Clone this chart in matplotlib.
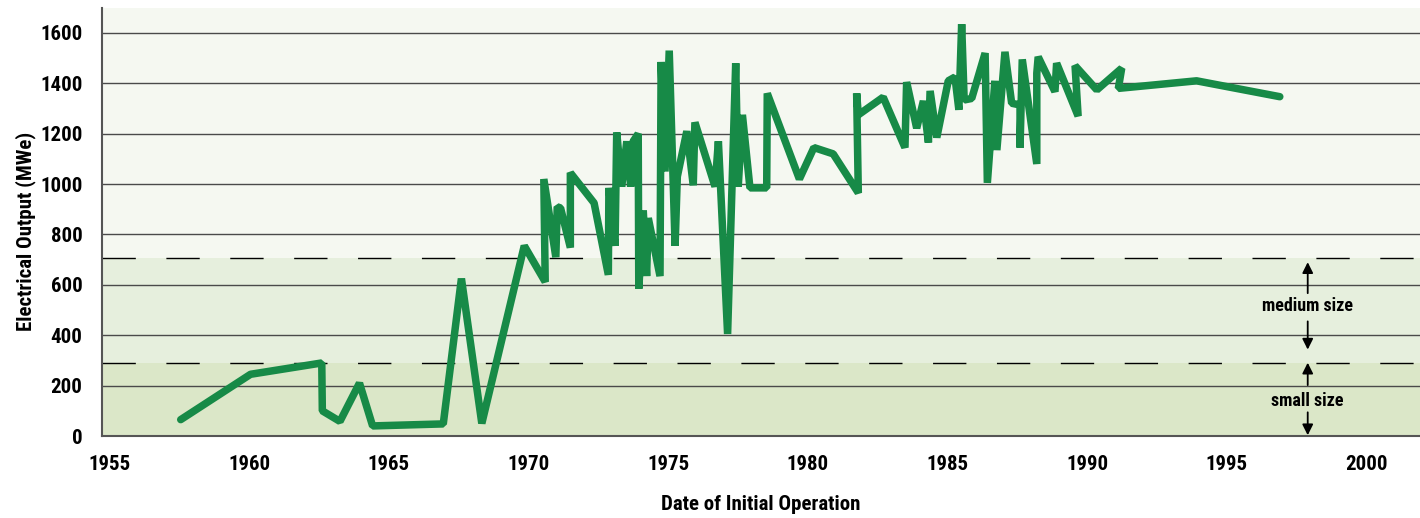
import matplotlib
matplotlib.use('Agg')
import matplotlib.pyplot as plt
from matplotlib import font_manager
from matplotlib.font_manager import FontProperties

# =========================
# DATA
# =========================
years = [1957.55, 1960.05, 1962.6, 1962.62, 1963.25, 1963.95, 1964.42, 1966.95,
         1967.6, 1968.33, 1969.85, 1970.6, 1970.55, 1970.98, 1971.03, 1971.15,
         1971.5, 1971.5, 1972.35, 1972.86, 1972.88, 1973.1, 1973.16, 1973.34,
         1973.52, 1973.66, 1973.75, 1973.93, 1973.95, 1974.11, 1974.23, 1974.29,
         1974.71, 1974.75, 1974.89, 1975.04, 1975.25, 1975.33, 1975.67, 1975.9,
         1975.96, 1976.68, 1976.8, 1977.13, 1977.42, 1977.51, 1977.66, 1977.93,
         1978.53, 1978.55, 1979.7, 1980.22, 1980.91, 1981.81, 1981.75, 1981.81,
         1982.7, 1983.48, 1983.54, 1983.9, 1984.14, 1984.32, 1984.38, 1984.62,
         1985.03, 1985.27, 1985.41, 1985.51, 1985.6, 1985.87, 1986.35, 1986.43,
         1986.7, 1986.77, 1987.06, 1987.3, 1987.6, 1987.6, 1987.68, 1988.2,
         1988.2, 1988.25, 1988.85, 1988.91, 1989.68, 1989.57, 1990.35, 1991.24,
         1991.12, 1993.92, 1996.9]
output_mwe = [65, 245, 290, 100, 58, 210, 40, 48,
              625, 50, 755, 612, 1020, 710, 910, 905,
              748, 1045, 925, 640, 985, 755, 1205, 990,
              1170, 990, 1170, 1200, 585, 895, 635, 865,
              635, 1485, 1050, 1530, 755, 1030, 1210, 995,
              1245, 990, 1170, 405, 1480, 990, 1275, 985,
              985, 1360, 1020, 1145, 1120, 965, 1360, 1275,
              1345, 1145, 1405, 1222, 1330, 1165, 1370, 1185,
              1410, 1425, 1295, 1635, 1334, 1340, 1520, 1005,
              1410, 1135, 1525, 1321, 1314, 1145, 1495, 1080,
              1440, 1505, 1367, 1480, 1270, 1470, 1374, 1460,
              1380, 1410, 1347]

small_limit = 290
medium_limit = 705
y_ticks = [0, 200, 400, 600, 800, 1000, 1200, 1400, 1600]
x_ticks = [1955, 1960, 1965, 1970, 1975, 1980, 1985, 1990, 1995, 2000]

# =========================
# FONT (look for a bold narrow face)
# =========================
narrow_words = ('Narrow', 'Condensed', 'Cond')
narrow_stretch = ('condensed', 'semi-condensed', 'extra-condensed',
                  'ultra-condensed')


def is_bold(f):
    w = f.weight
    if isinstance(w, str):
        return w in ('bold', 'heavy', 'extra bold', 'black', 'semibold', 'demibold')
    return w >= 600


def is_narrow(f):
    if any(wd in f.name for wd in narrow_words):
        return True
    if 'cond' in f.fname.lower() or 'narrow' in f.fname.lower():
        return True
    s = f.stretch
    if isinstance(s, str):
        return s in narrow_stretch
    return s < 500


cands = [f for f in font_manager.fontManager.ttflist
         if is_narrow(f) and is_bold(f) and f.style == 'normal']
pref = ['Liberation Sans Narrow', 'Roboto Condensed', 'Open Sans Condensed',
        'Noto Sans', 'DejaVu Sans']
cands.sort(key=lambda f: next((i for i, p in enumerate(pref) if f.name.startswith(p)), 99))

if cands:
    fp = lambda size: FontProperties(fname=cands[0].fname, size=size)
else:
    fp = lambda size: FontProperties(family='DejaVu Sans', weight='bold', size=size)

# =========================
# PLOT
# =========================
fig = plt.figure(figsize=(14.2, 5.18), dpi=100)
ax = fig.add_axes([0.0718, 0.1583, 0.9282, 0.8267])

ax.set_xlim(1954.73, 2001.92)
ax.set_ylim(0, 1700)

# size bands
ax.axhspan(0, small_limit, color='#dbe7c8', zorder=0, lw=0)
ax.axhspan(small_limit, medium_limit, color='#e6efdd', zorder=0, lw=0)
ax.axhspan(medium_limit, 1700, color='#f5f8f1', zorder=0, lw=0)

for v in y_ticks[1:]:
    ax.axhline(v, color='#4a4a4a', lw=1.0, zorder=1)
for v in [small_limit, medium_limit]:
    ax.axhline(v, color='black', lw=1.0, dashes=(24, 22), zorder=1)

ax.plot(years, output_mwe, color='#178a47', lw=5.4,
        solid_capstyle='round', solid_joinstyle='bevel', zorder=3)

# size annotations
ax_x = 1997.9
arrow = dict(arrowstyle='-|>', color='black', lw=1.3, mutation_scale=16,
             shrinkA=0, shrinkB=0)
ax.text(ax_x, 516, 'medium size', ha='center', va='center', fontproperties=fp(13))
ax.annotate('', xy=(ax_x, 690), xytext=(ax_x, 567), arrowprops=arrow)
ax.annotate('', xy=(ax_x, 343), xytext=(ax_x, 455), arrowprops=arrow)
ax.text(ax_x, 140, 'small size', ha='center', va='center', fontproperties=fp(13))
ax.annotate('', xy=(ax_x, 291), xytext=(ax_x, 202), arrowprops=arrow)
ax.annotate('', xy=(ax_x, 3), xytext=(ax_x, 94), arrowprops=arrow)

ax.set_xticks(x_ticks)
ax.set_yticks(y_ticks)
ax.set_xticklabels([str(v) for v in x_ticks], fontproperties=fp(15))
ax.set_yticklabels([str(v) for v in y_ticks], fontproperties=fp(15))
ax.tick_params(length=0)
ax.tick_params(axis='y', pad=14)
ax.tick_params(axis='x', pad=14)

for s in ['top', 'right']:
    ax.spines[s].set_visible(False)
for s in ['left', 'bottom']:
    ax.spines[s].set_color('#555555')
    ax.spines[s].set_linewidth(1.5)

ax.set_xlabel('Date of Initial Operation', fontproperties=fp(15))
ax.set_ylabel('Electrical Output (MWe)', fontproperties=fp(15))
ax.xaxis.set_label_coords(0.5, -0.137)
ax.yaxis.set_label_coords(-0.05, 0.477)

fig.savefig('out.png', dpi=100)
